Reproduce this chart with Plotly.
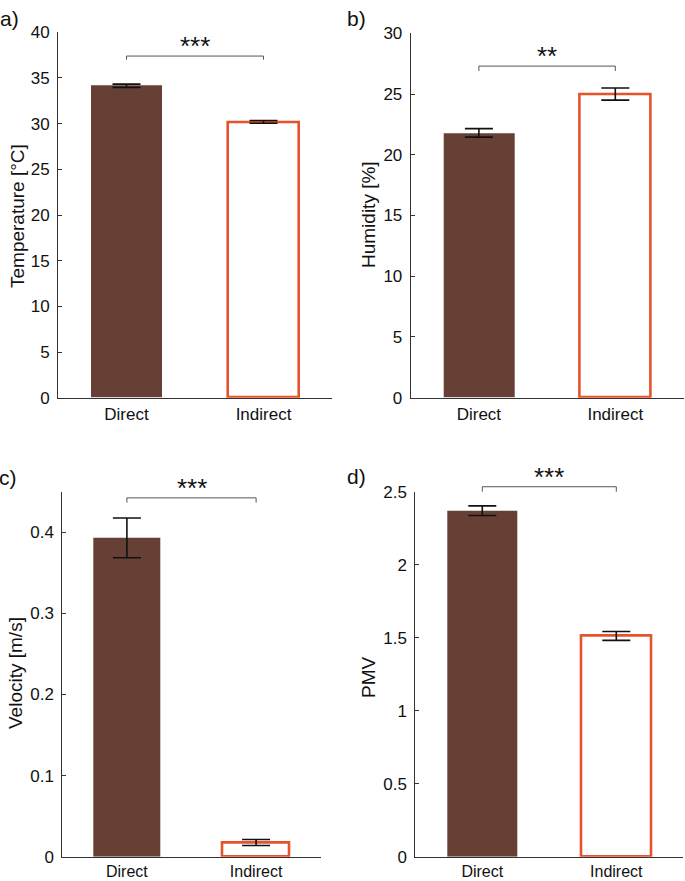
import plotly.graph_objects as go

# ---- data ----
categories = ["Direct", "Indirect"]
temp_mean = [34.15, 30.2]
temp_err = [0.18, 0.15]
hum_mean = [21.8, 25.0]
hum_err = [0.35, 0.5]
vel_mean = [0.393, 0.0175]
vel_err = [0.0245, 0.0037]
pmv_mean = [2.37, 1.512]
pmv_err = [0.033, 0.03]

panel_titles = ["Temperature [°C]", "Humidity [%]", "Velocity [m/s]", "PMV"]
panel_letters = ["a)", "b)", "c)", "d)"]
y_ranges = [[0, 40], [0, 30], [0, 0.45], [0, 2.5]]
y_ticks = [[0, 5, 10, 15, 20, 25, 30, 35, 40],
           [0, 5, 10, 15, 20, 25, 30],
           [0, 0.1, 0.2, 0.3, 0.4],
           [0, 0.5, 1, 1.5, 2, 2.5]]
y_ticktext = [["0", "5", "10", "15", "20", "25", "30", "35", "40"],
              ["0", "5", "10", "15", "20", "25", "30"],
              ["0", "0.1", "0.2", "0.3", "0.4"],
              ["0", "0.5", "1", "1.5", "2", "2.5"]]
sig_labels = ["***", "**", "***", "***"]
sig_top = [37.4, 27.3, 0.4424, 2.534]
sig_leg = [0.4, 0.4, 0.0059, 0.034]

means = [temp_mean, hum_mean, vel_mean, pmv_mean]
errs = [temp_err, hum_err, vel_err, pmv_err]

BROWN = "#664034"
ORANGE = "#E8522A"
AXC = "#333333"
W, H = 685, 881

# layout geometry (pixels)
x_dom_px = [(58, 332), (410.7, 683.5), (62.3, 320.7), (415.3, 683.3)]
y_dom_px = [(397.7, 32.3), (397.7, 33.3), (856.7, 491.7), (856.7, 491.7)]
x_label_standoff = [1, 1, 0, 0]
x_label_size = [17, 17, 16, 16]
x_range = [0.5, 2.5]

fig = go.Figure()
FONT = "Liberation Sans, Arial, Helvetica, sans-serif"

for i in range(4):
    xa = "x" if i == 0 else f"x{i+1}"
    ya = "y" if i == 0 else f"y{i+1}"
    xs = [1, 2]
    fig.add_trace(go.Bar(
        x=xs, y=means[i], xaxis=xa, yaxis=ya, width=0.52,
        marker=dict(color=[BROWN, "white"],
                    line=dict(color=[BROWN, ORANGE], width=[0, 2.6])),
        error_y=dict(type="data", array=errs[i], color="#111111",
                     thickness=1.6, width=14),
        showlegend=False, hoverinfo="skip"))

    lay_x = "xaxis" if i == 0 else f"xaxis{i+1}"
    lay_y = "yaxis" if i == 0 else f"yaxis{i+1}"
    x0, x1 = x_dom_px[i]
    yb, yt = y_dom_px[i]
    fig.layout[lay_x] = dict(
        domain=[x0 / W, x1 / W], range=x_range, anchor=ya, automargin=False,
        tickmode="array", tickvals=[1, 2], ticktext=categories,
        showline=True, linecolor=AXC, linewidth=1, ticks="",
        showgrid=False, zeroline=False,
        ticklabelstandoff=x_label_standoff[i],
        tickfont=dict(family=FONT, size=x_label_size[i], color="#111111"))
    fig.layout[lay_y] = dict(
        domain=[(H - yb) / H, (H - yt) / H], range=y_ranges[i], anchor=xa,
        automargin=False,
        tickmode="array", tickvals=y_ticks[i], ticktext=y_ticktext[i],
        showline=True, linecolor=AXC, linewidth=1, ticks="inside",
        ticklen=4, tickcolor=AXC, showgrid=False, zeroline=False,
        ticklabelstandoff=4,
        tickfont=dict(family=FONT, size=17, color="#111111"))

    # significance bracket (in axis-domain units derived from data values)
    def xd(v):
        return (v - x_range[0]) / (x_range[1] - x_range[0])

    def yd(v):
        return (v - y_ranges[i][0]) / (y_ranges[i][1] - y_ranges[i][0])

    top = sig_top[i]
    bot = top - sig_leg[i]
    path = (f"M {xd(1)},{yd(bot)} L {xd(1)},{yd(top)} "
            f"L {xd(2)},{yd(top)} L {xd(2)},{yd(bot)}")
    fig.add_shape(type="path", path=path, xref=f"{xa} domain",
                  yref=f"{ya} domain", line=dict(color="#555555", width=1))
    fig.add_annotation(x=xd(1.5), y=yd(top), xref=f"{xa} domain",
                       yref=f"{ya} domain", text=sig_labels[i],
                       showarrow=False, yanchor="bottom", yshift=-7,
                       font=dict(family=FONT, size=26, color="#111111"))

# y-axis titles and panel letters
title_pos = [(17, 216), (369, 215), (15, 673), (368, 677)]
letter_pos = [(9, 18), (356, 18), (8, 477), (356, 476)]
for i in range(4):
    tx, ty = title_pos[i]
    fig.add_annotation(x=tx / W, y=(H - ty) / H, xref="paper", yref="paper",
                       text=panel_titles[i], textangle=-90, showarrow=False,
                       xanchor="center", yanchor="middle",
                       font=dict(family=FONT, size=19, color="#111111"))
    lx, ly = letter_pos[i]
    fig.add_annotation(x=lx / W, y=(H - ly) / H, xref="paper", yref="paper",
                       text=panel_letters[i], showarrow=False,
                       xanchor="center", yanchor="middle",
                       font=dict(family=FONT, size=21, color="#111111"))

fig.update_layout(width=W, height=H, margin=dict(l=0, r=0, t=0, b=0),
                  paper_bgcolor="white", plot_bgcolor="white",
                  bargap=0, font=dict(family=FONT))

fig.write_html("out.html",
               config={"displayModeBar": False},
               post_script="document.body.style.margin='0px';"
                           "document.body.style.overflow='hidden';")
